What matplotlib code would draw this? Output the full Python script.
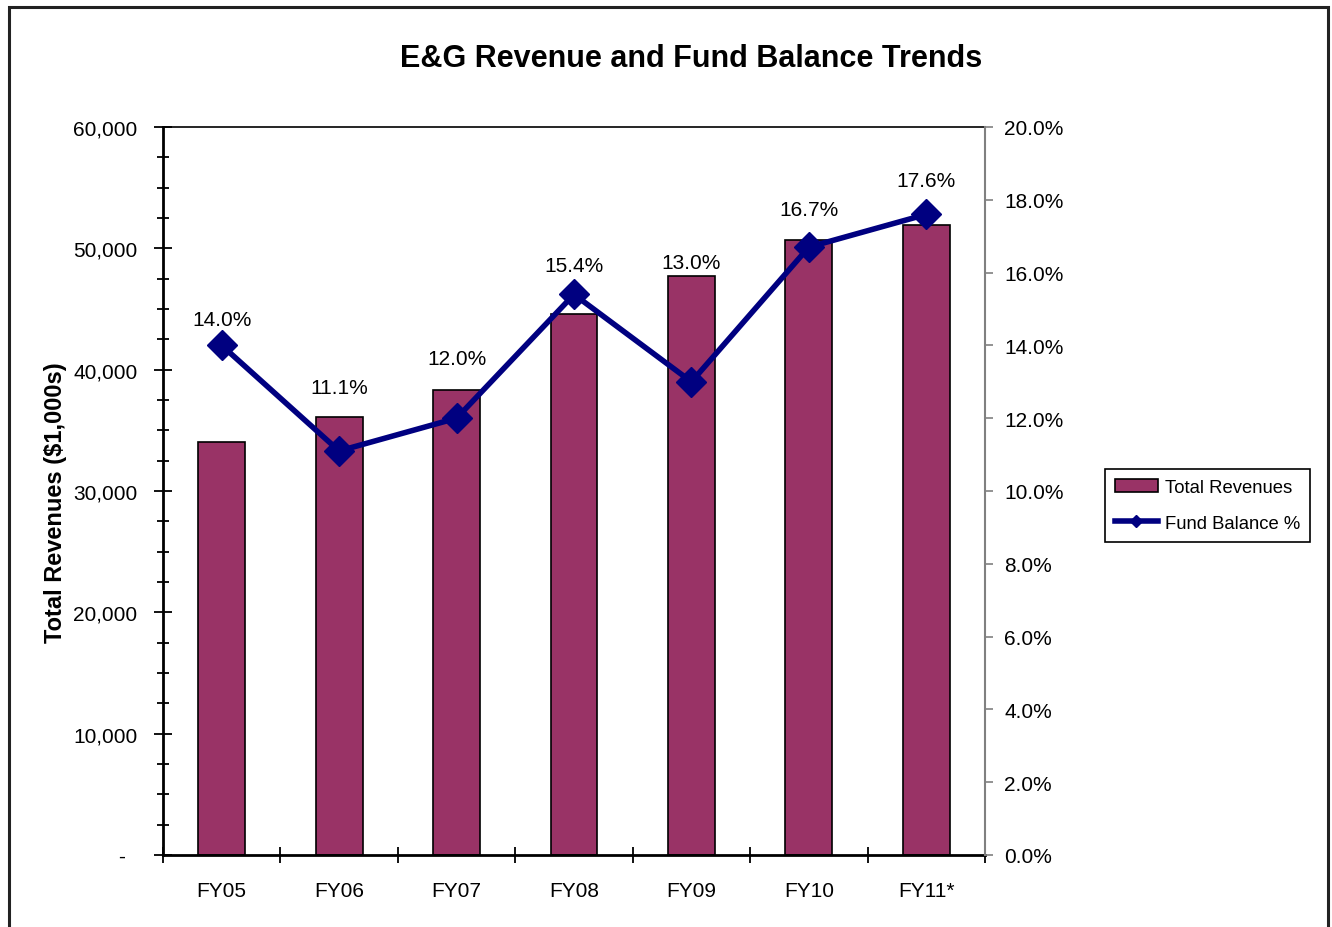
import matplotlib
matplotlib.use("Agg")
import matplotlib.pyplot as plt
from matplotlib.ticker import FuncFormatter, MultipleLocator
from matplotlib.patches import Rectangle, Patch
from matplotlib.lines import Line2D

plt.rcParams['font.family'] = ['Liberation Sans', 'DejaVu Sans']

categories = ["FY05", "FY06", "FY07", "FY08", "FY09", "FY10", "FY11*"]
revenues = [34000, 36100, 38300, 44600, 47700, 50700, 51900]
fund_balance_pct = [14.0, 11.1, 12.0, 15.4, 13.0, 16.7, 17.6]

bar_color = "#993366"
line_color = "#000080"
# vertical offsets (points) of the value labels above each marker, as placed in the original
label_offsets_pt = [19, 46, 43, 21, 86, 27, 24.5]

fig = plt.figure(figsize=(13.32, 9.28), dpi=100)
fig.patches.append(Rectangle((9/1332, -0.1), (1328-9)/1332, 1.1 - 8/928,
                             transform=fig.transFigure, fill=False,
                             edgecolor="#222222", linewidth=2.2))

ax = fig.add_axes([163/1332, 1-856/928, (985-163)/1332, (856-128)/928])
x = list(range(len(categories)))
ax.bar(x, revenues, width=0.4, color=bar_color, edgecolor="black", linewidth=1.2, zorder=2)
ax.set_xlim(-0.5, len(categories)-0.5)
ax.set_ylim(0, 60000)
ax.yaxis.set_major_locator(MultipleLocator(10000))
ax.yaxis.set_minor_locator(MultipleLocator(2500))
ax.yaxis.set_major_formatter(FuncFormatter(lambda v, p: "-  " if v == 0 else f"{int(v):,}"))
ax.set_xticks([i - 0.5 for i in range(len(categories)+1)])
ax.set_xticklabels([])
ax.set_xticks(x, minor=True)
ax.set_xticklabels(categories, minor=True, fontsize=15)
ax.tick_params(axis='x', which='major', direction='inout', length=12, width=1.3)
ax.tick_params(axis='x', which='minor', length=0, pad=19)
ax.tick_params(axis='y', which='major', direction='inout', length=13, width=1.3, labelsize=15, pad=12)
ax.tick_params(axis='y', which='minor', direction='inout', length=8, width=1.3)
for s in ['left', 'bottom']:
    ax.spines[s].set_linewidth(2)
ax.spines['top'].set_linewidth(1.2)
ax.spines['right'].set_visible(False)
ax.set_ylabel("Total Revenues ($1,000s)", fontsize=17, fontweight='bold')
ax.yaxis.set_label_coords((67-163)/822, (856-503)/728)

ax2 = ax.twinx()
ax2.plot(x, fund_balance_pct, color=line_color, linewidth=4, marker='D',
         markersize=15, zorder=3, clip_on=False)
ax2.set_ylim(0, 20)
ax2.yaxis.set_major_locator(MultipleLocator(2))
ax2.yaxis.set_major_formatter(FuncFormatter(lambda v, p: f"{v:.1f}%"))
ax2.tick_params(axis='y', direction='out', length=6, width=1.2, color="#808080",
                labelsize=15, pad=8)
for s in ['left', 'top', 'bottom']:
    ax2.spines[s].set_visible(False)
ax2.spines['right'].set_color("#808080")
ax2.spines['right'].set_linewidth(1.5)
for xi, v, off in zip(x, fund_balance_pct, label_offsets_pt):
    ax2.annotate(f"{v:.1f}%", (xi, v), xytext=(0, off), textcoords='offset points',
                 ha='center', va='center', fontsize=15)

fig.text(691/1332, 1-59/928, "E&G Revenue and Fund Balance Trends", ha='center', va='center',
         fontsize=22, fontweight='bold')

handles = [Patch(facecolor=bar_color, edgecolor='black', linewidth=1.2),
           Line2D([0], [0], color=line_color, linewidth=4, marker='D', markersize=6)]
leg = fig.legend(handles, ["Total Revenues", "Fund Balance %"], loc='upper left',
                 bbox_to_anchor=(1105/1332, 1-470/928), fontsize=13.3, frameon=True,
                 fancybox=False, edgecolor='black', framealpha=1, handlelength=2.3,
                 borderpad=0.55, labelspacing=1.0, handletextpad=0.4, borderaxespad=0)
leg.get_frame().set_linewidth(1.2)

fig.savefig("out.png", dpi=100)
